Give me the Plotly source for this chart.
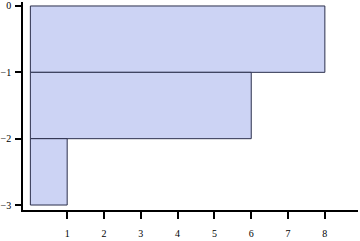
import plotly.graph_objects as go

categories = [-0.5, -1.5, -2.5]
values = [8, 6, 1]
x_ticks = [1, 2, 3, 4, 5, 6, 7, 8]
y_ticks = [0, -1, -2, -3]
y_labels = ["0", "\u22121", "\u22122", "\u22123"]

fig = go.Figure(go.Bar(
    x=values, y=categories, orientation="h", width=1,
    marker=dict(color="#ccd3f4", line=dict(color="#2b2f4c", width=1)),
))

font = dict(family="Liberation Serif, Times New Roman, serif", size=10, color="#000")
fig.update_layout(
    width=360, height=241,
    margin=dict(l=23, r=2, t=2, b=31, autoexpand=False),
    plot_bgcolor="white", paper_bgcolor="white",
    showlegend=False, font=font,
    xaxis=dict(range=[-0.2, 8.9], tickvals=x_ticks, showgrid=False, zeroline=False,
               showline=True, linecolor="black", linewidth=1.5, automargin=False,
               ticks="outside", ticklen=7, tickcolor="black", tickwidth=1.5,
               ticklabelstandoff=6, tickfont=font),
    yaxis=dict(range=[-3.075, 0.06], tickvals=y_ticks, ticktext=y_labels,
               showgrid=False, zeroline=False, automargin=False,
               showline=True, linecolor="black", linewidth=1.5,
               ticks="outside", ticklen=6, tickcolor="black", tickwidth=1.5,
               ticklabelstandoff=2, tickfont=font),
)
fig.write_html("out.html")
